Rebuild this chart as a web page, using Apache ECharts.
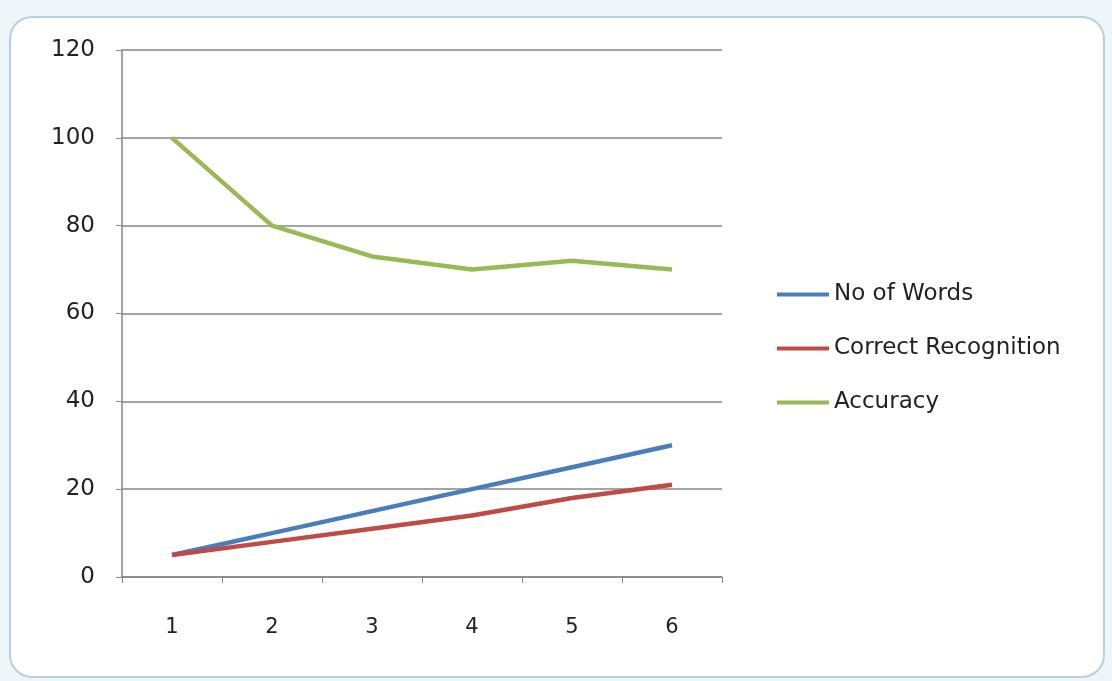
<!DOCTYPE html>
<html>
<head>
<meta charset="utf-8">
<script src="https://cdn.jsdelivr.net/npm/echarts@6/dist/echarts.min.js"></script>
<style>
  html, body { margin: 0; padding: 0; background: #eef6f9; }
  #main { width: 1112px; height: 681px; }
</style>
</head>
<body>
<div id="main"></div>
<script>
const categories = ['1', '2', '3', '4', '5', '6'];
const noOfWords = [5, 10, 15, 20, 25, 30];
const correctRecognition = [5, 8, 11, 14, 18, 21];
const accuracy = [100, 80, 73, 70, 72, 70];

const font = 'DejaVu Sans, sans-serif';
const axisGray = '#868686';

const chart = echarts.init(document.getElementById('main'));
chart.setOption({
  animation: false,
  backgroundColor: '#eef6f9',
  graphic: [
    {
      type: 'rect',
      shape: { x: 10, y: 17, width: 1094, height: 660, r: 22 },
      style: { fill: '#ffffff', stroke: '#b8cfdc', lineWidth: 2 },
      z: -10
    }
  ],
  grid: { left: 122, right: 390, top: 50, bottom: 104 },
  legend: {
    orient: 'vertical',
    left: 772,
    top: 278,
    icon: 'rect',
    itemWidth: 52,
    itemHeight: 4,
    itemGap: 31,
    textStyle: { fontFamily: font, fontSize: 23, color: '#222' },
    data: ['No of Words', 'Correct Recognition', 'Accuracy']
  },
  xAxis: {
    type: 'category',
    data: categories,
    boundaryGap: true,
    axisLine: { lineStyle: { color: axisGray, width: 1.5 } },
    axisTick: { show: true, length: 6, lineStyle: { color: axisGray } },
    axisLabel: { fontFamily: font, fontSize: 21, color: '#222', margin: 40 },
    splitLine: { show: false }
  },
  yAxis: {
    type: 'value',
    min: 0,
    max: 120,
    interval: 20,
    axisLine: { show: true, lineStyle: { color: axisGray, width: 1.5 } },
    axisTick: { show: true, length: 6, lineStyle: { color: axisGray } },
    axisLabel: { fontFamily: font, fontSize: 23, color: '#222', margin: 27 },
    splitLine: { show: true, lineStyle: { color: axisGray, width: 1.5 } }
  },
  series: [
    {
      name: 'No of Words',
      type: 'line',
      data: noOfWords,
      symbol: 'none',
      color: '#4a7ebb',
      lineStyle: { width: 4.5, color: '#4a7ebb' }
    },
    {
      name: 'Correct Recognition',
      type: 'line',
      data: correctRecognition,
      symbol: 'none',
      color: '#be4b48',
      lineStyle: { width: 4.5, color: '#be4b48' }
    },
    {
      name: 'Accuracy',
      type: 'line',
      data: accuracy,
      symbol: 'none',
      color: '#98b954',
      lineStyle: { width: 4.5, color: '#98b954' }
    }
  ]
});
</script>
</body>
</html>
